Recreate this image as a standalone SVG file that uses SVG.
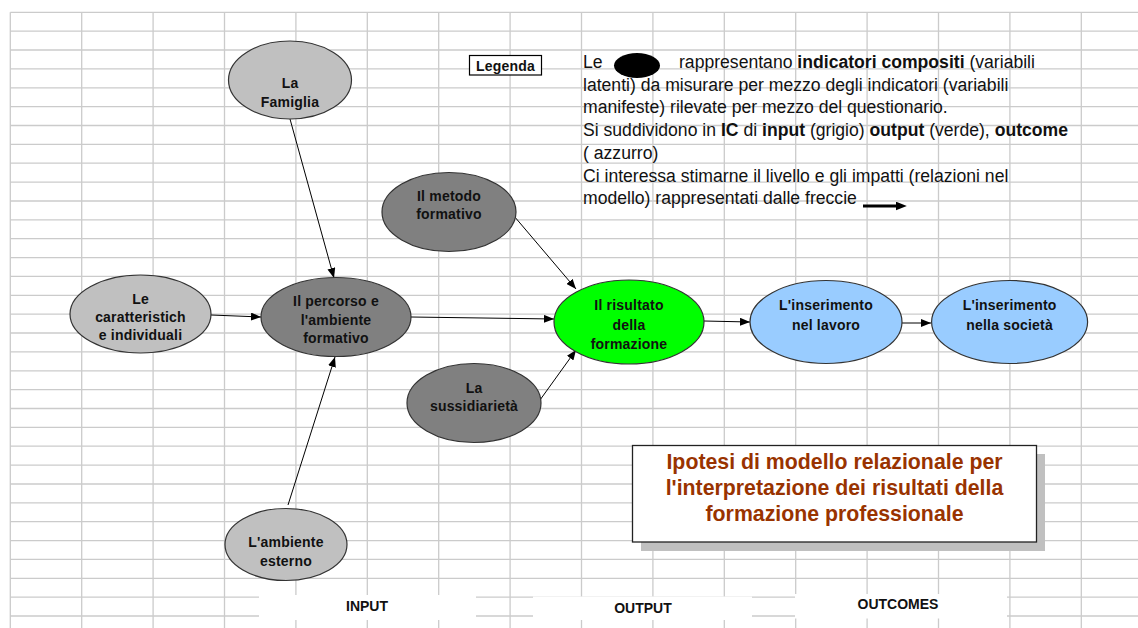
<svg xmlns="http://www.w3.org/2000/svg" width="1138" height="628" viewBox="0 0 1138 628">
<style>
.grid{stroke:#cbcbcb;stroke-width:1.3;fill:none}
.node ellipse{stroke:#333;stroke-width:1.2}
.lg{fill:#c0c0c0}
.dg{fill:#808080}
.gr{fill:#00ff00}
.bl{fill:#99ccff}
.nt{font-family:"Liberation Sans",Arial,sans-serif;font-size:14px;font-weight:bold;fill:#111;text-anchor:middle;letter-spacing:0.2px}
.conn line{stroke:#000;stroke-width:1;marker-end:url(#ah)}
.leg{font-family:"Liberation Sans",Arial,sans-serif;font-size:17.6px;fill:#111}
.b{font-weight:bold}
.title{font-family:"Liberation Sans",Arial,sans-serif;font-size:21.3px;font-weight:bold;fill:#993300;text-anchor:middle}
.lab{font-family:"Liberation Sans",Arial,sans-serif;font-size:14px;font-weight:bold;fill:#111;text-anchor:middle}
</style>
<defs>
<marker id="ah" viewBox="0 0 10 8" refX="10" refY="4" markerWidth="10" markerHeight="8" markerUnits="userSpaceOnUse" orient="auto">
<path d="M0,0 L10,4 L0,8 Z" fill="#000"/>
</marker>
<marker id="ahb" viewBox="0 0 10 8" refX="2" refY="4" markerWidth="11" markerHeight="9" markerUnits="userSpaceOnUse" orient="auto">
<path d="M0,0 L10,4 L0,8 Z" fill="#000"/>
</marker>
</defs>
<rect x="0" y="0" width="1138" height="628" fill="#fff"/>
<g id="grid" class="grid">
<path d="M10.3,12.3V628M81.7,12.3V628M153.1,12.3V628M224.5,12.3V628M295.9,12.3V628M367.3,12.3V628M438.7,12.3V628M510.1,12.3V628M581.5,12.3V628M652.9,12.3V628M724.3,12.3V628M795.7,12.3V628M867.1,12.3V628M938.5,12.3V628M1009.9,12.3V628M1081.3,12.3V628"/>
<path d="M10.3,12.3H1138M10.3,31.2H1138M10.3,50.0H1138M10.3,68.9H1138M10.3,87.8H1138M10.3,106.6H1138M10.3,125.5H1138M10.3,144.4H1138M10.3,163.2H1138M10.3,182.1H1138M10.3,201.0H1138M10.3,219.8H1138M10.3,238.7H1138M10.3,257.6H1138M10.3,276.4H1138M10.3,295.3H1138M10.3,314.2H1138M10.3,333.0H1138M10.3,351.9H1138M10.3,370.8H1138M10.3,389.6H1138M10.3,408.5H1138M10.3,427.4H1138M10.3,446.2H1138M10.3,465.1H1138M10.3,484.0H1138M10.3,502.8H1138M10.3,521.7H1138M10.3,540.6H1138M10.3,559.4H1138M10.3,578.3H1138M10.3,597.2H1138M10.3,616.0H1138"/>
</g>
<g id="labels">
<rect x="259" y="595" width="217" height="25" fill="#fff"/>
<rect x="533" y="596.5" width="219" height="23.5" fill="#fff"/>
<rect x="795" y="594" width="212" height="24.5" fill="#fff"/>
<text class="lab" x="367" y="611">INPUT</text>
<text class="lab" x="643" y="612.5">OUTPUT</text>
<text class="lab" x="898" y="609">OUTCOMES</text>
</g>
<g id="connectors" class="conn">
<line x1="290" y1="119" x2="334" y2="278"/>
<line x1="211" y1="315" x2="261" y2="317"/>
<line x1="288" y1="505" x2="335" y2="357"/>
<line x1="411" y1="317" x2="554" y2="319"/>
<line x1="514" y1="216" x2="576" y2="289"/>
<line x1="540" y1="400" x2="576" y2="350"/>
<line x1="704" y1="321" x2="750" y2="322"/>
<line x1="902" y1="323" x2="931" y2="323"/>
</g>
<g id="n-famiglia" class="node">
<ellipse class="lg" cx="290" cy="80" rx="61.5" ry="39"/>
<text class="nt" x="290" y="88">La</text>
<text class="nt" x="290" y="107">Famiglia</text>
</g>
<g id="n-caratteristiche" class="node">
<ellipse class="lg" cx="140.5" cy="314" rx="70.5" ry="39"/>
<text class="nt" x="140.5" y="304">Le</text>
<text class="nt" x="140.5" y="322">caratteristich</text>
<text class="nt" x="140.5" y="340">e individuali</text>
</g>
<g id="n-percorso" class="node">
<ellipse class="dg" cx="336" cy="317" rx="75" ry="39.5"/>
<text class="nt" x="336" y="306">Il percorso e</text>
<text class="nt" x="336" y="325">l'ambiente</text>
<text class="nt" x="336" y="343">formativo</text>
</g>
<g id="n-metodo" class="node">
<ellipse class="dg" cx="449" cy="212" rx="67" ry="39.5"/>
<text class="nt" x="449" y="201">Il metodo</text>
<text class="nt" x="449" y="219">formativo</text>
</g>
<g id="n-sussidiarieta" class="node">
<ellipse class="dg" cx="474" cy="403" rx="67" ry="39.5"/>
<text class="nt" x="474" y="393">La</text>
<text class="nt" x="474" y="411">sussidiarietà</text>
</g>
<g id="n-ambiente" class="node">
<ellipse class="lg" cx="286" cy="544.5" rx="61" ry="36"/>
<text class="nt" x="286" y="547">L'ambiente</text>
<text class="nt" x="286" y="566">esterno</text>
</g>
<g id="n-risultato" class="node">
<ellipse class="gr" cx="629" cy="322" rx="75" ry="42"/>
<text class="nt" x="629" y="310">Il risultato</text>
<text class="nt" x="629" y="330">della</text>
<text class="nt" x="629" y="349">formazione</text>
</g>
<g id="n-lavoro" class="node">
<ellipse class="bl" cx="826" cy="322" rx="76" ry="41.5"/>
<text class="nt" x="826" y="310">L'inserimento</text>
<text class="nt" x="826" y="330">nel lavoro</text>
</g>
<g id="n-societa" class="node">
<ellipse class="bl" cx="1009.6" cy="322" rx="78" ry="41.5"/>
<text class="nt" x="1009.6" y="310">L'inserimento</text>
<text class="nt" x="1009.6" y="330">nella società</text>
</g>
<g id="legend">
<rect x="469.5" y="55.5" width="72" height="19.5" fill="#fff" stroke="#000" stroke-width="1.2"/>
<text class="nt" x="505.5" y="70.5">Legenda</text>
<ellipse cx="637" cy="65.5" rx="23" ry="12.5" fill="#000"/>
<text class="leg" x="583" y="68">Le</text>
<text class="leg" x="679" y="68">rappresentano <tspan class="b">indicatori compositi</tspan> (variabili</text>
<text class="leg" x="583" y="90.7">latenti) da misurare per mezzo degli indicatori (variabili</text>
<text class="leg" x="583" y="113.4">manifeste) rilevate per mezzo del questionario.</text>
<text class="leg" x="583" y="136.1">Si suddividono in <tspan class="b">IC</tspan> di <tspan class="b">input</tspan> (grigio) <tspan class="b">output</tspan> (verde), <tspan class="b">outcome</tspan></text>
<text class="leg" x="583" y="158.8">( azzurro)</text>
<text class="leg" x="583" y="181.5">Ci interessa stimarne il livello e gli impatti (relazioni nel</text>
<text class="leg" x="583" y="204.2">modello) rappresentati dalle freccie</text>
<line x1="863" y1="206" x2="898" y2="206" stroke="#000" stroke-width="3" marker-end="url(#ahb)"/>
</g>
<g id="title">
<rect x="641" y="454" width="404" height="97" fill="#c0c0c0"/>
<rect x="632.5" y="445.5" width="404" height="96.5" fill="#fff" stroke="#222" stroke-width="1.3"/>
<text class="title" x="834.5" y="469">Ipotesi di modello relazionale per</text>
<text class="title" x="834.5" y="494.5">l'interpretazione dei risultati della</text>
<text class="title" x="834.5" y="520.5">formazione professionale</text>
</g>
</svg>
